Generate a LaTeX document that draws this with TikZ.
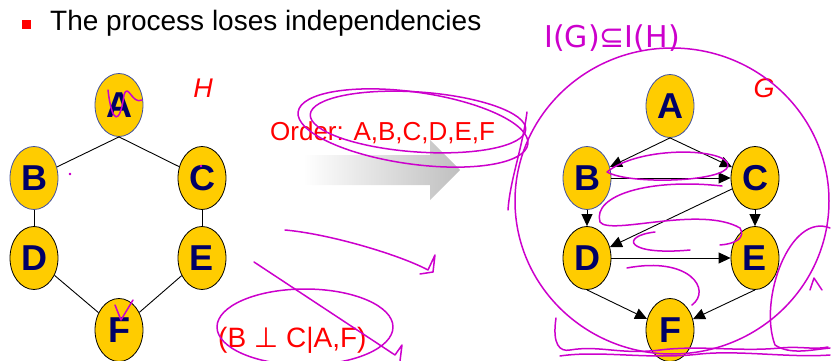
\documentclass[tikz,border=0pt]{standalone}
\usepackage{fontspec}
\setmainfont{Liberation Sans}
\newfontfamily\symfont{DejaVu Sans}
\usetikzlibrary{shapes.geometric,arrows.meta}
\definecolor{gold}{HTML}{FFCC00}
\definecolor{navy}{HTML}{000066}
\definecolor{rimblue}{HTML}{4050A0}
\definecolor{ink}{HTML}{CC00CC}
\tikzset{
  var/.style={ellipse,draw=black,line width=0.8pt,fill=gold,minimum width=48pt,
    minimum height=63pt,inner sep=0pt,text=navy,
    font=\fontsize{36}{36}\selectfont\bfseries},
  rim/.style={draw=rimblue},
  graphname/.style={text=red,font=\fontsize{27}{27}\selectfont\itshape},
  note/.style={text=red,font=\fontsize{26}{26}\selectfont,inner sep=0pt},
  pen/.style={draw=ink,line width=1.5pt,line cap=round,line join=round},
}
\begin{document}
\begin{tikzpicture}[x=1pt,y=-1pt]
  \useasboundingbox (0,0) rectangle (831,361);

  \node[fill=red,minimum size=9pt,inner sep=0pt] (bullet) at (26,25) {};
  \node[anchor=base west,inner sep=0pt,font=\fontsize{28}{28}\selectfont] (title)
    at (50,31) {The process loses independencies};

  % undirected graph H
  \draw
    (119,105) node[var,rim] (hA){A}
    (34,178) node[var,rim] (hB){B}
    (202,178) node[var] (hC){C}
    (34,258) node[var] (hD){D}
    (202,258) node[var] (hE){E}
    (119,330) node[var] (hF){F};
  \node[graphname] (hname) at (203,88) {H};
  \begin{scope}[-,line width=0.9pt]
    \draw (hA.south) to (hB);
    \draw (hA.south) to (hC);
    \draw (hB) to (hD);
    \draw (hC) to (hE);
    \draw (hD) to (hF);
    \draw (hE) to (hF);
  \end{scope}

  % ordering arrow
  \shade[left color=white,right color=black!25]
    (303,155) -- (430,155) -- (430,140) -- (460,170) -- (430,200)
    -- (430,185) -- (303,185) -- cycle;
  \node[note,anchor=base west] (order) at (270,140) {Order: A,B,C,D,E,F};
  \node[note,anchor=base west,font=\fontsize{28}{28}\selectfont] (indep)
    at (218,347) {(B {\symfont ⊥} C|A,F)};

  % directed graph G
  \draw
    (670,106) node[var,rim] (gA){A}
    (587,178) node[var,rim] (gB){B}
    (755,178) node[var] (gC){C}
    (587,258) node[var] (gD){D}
    (755,258) node[var] (gE){E}
    (670,330) node[var] (gF){F};
  \node[graphname] (gname) at (764,88) {G};
  \begin{scope}[-{Triangle[length=12pt,width=11pt]},line width=0.9pt]
    \draw (gA.south) to (gB);
    \draw (gA.south) to (gC);
    \draw (gB) to (gC);
    \draw (gB) to (gD);
    \draw (gC) to (gE);
    \draw (gC) to (gD);
    \draw (gD) to (gE);
    \draw (gD.south) to (gF);
    \draw (gE.south) to (gF);
  \end{scope}

  % pen marks
  \begin{scope}[pen]
    \draw (672,201) ellipse (157 and 153);
    \draw[rotate around={-8:(413,128)}] (413,128) ellipse (116 and 36);
    \draw[rotate around={-4:(418,122)}] (418,122) ellipse (108 and 30);
    \draw (527,112) .. controls (522,150) and (510,180) .. (508,210);
    \draw (305,327) ellipse (88 and 38);
    \draw (254,262) -- (395,355) -- (402,345) -- (400,361);
    \draw (285,230) .. controls (330,234) and (400,255) .. (428,270)
      -- (435,255) -- (433,272) -- (420,274);
    \draw (607,172) .. controls (640,145) and (730,148) .. (728,166)
      .. controls (725,182) and (630,185) .. (607,172);
    \draw (722,186) .. controls (650,178) and (592,195) .. (600,222)
      .. controls (610,236) and (700,205) .. (740,228)
      .. controls (746,238) and (735,244) .. (720,245);
    \draw (655,232) .. controls (620,236) and (625,256) .. (690,250);
    \draw (627,268) .. controls (690,256) and (712,290) .. (692,305);
    \draw (830,228) .. controls (790,212) and (758,300) .. (775,345)
      .. controls (790,355) and (810,350) .. (830,348);
    \draw (810,290) -- (814,278) -- (822,290);
    \draw (556,318) .. controls (552,345) and (560,352) .. (570,350)
      .. controls (600,345) and (620,355) .. (660,350)
      .. controls (700,345) and (740,352) .. (780,348)
      .. controls (800,346) and (815,350) .. (828,347);
    \draw (560,356) .. controls (600,350) and (650,360) .. (700,354)
      .. controls (740,350) and (790,358) .. (830,355);
    \draw (108,90) .. controls (112,125) and (120,125) .. (124,95)
      .. controls (128,82) and (132,105) .. (142,100);
    \draw (115,305) -- (121,320) -- (133,300);
    \draw (70,174) circle (0.6);
    \draw (201,166) circle (0.6);
    \node[text=ink,font=\symfont\fontsize{30}{30}\selectfont,inner sep=0pt]
      (claim) at (612,38) {I(G)⊆I(H)};
  \end{scope}
\end{tikzpicture}
\end{document}
